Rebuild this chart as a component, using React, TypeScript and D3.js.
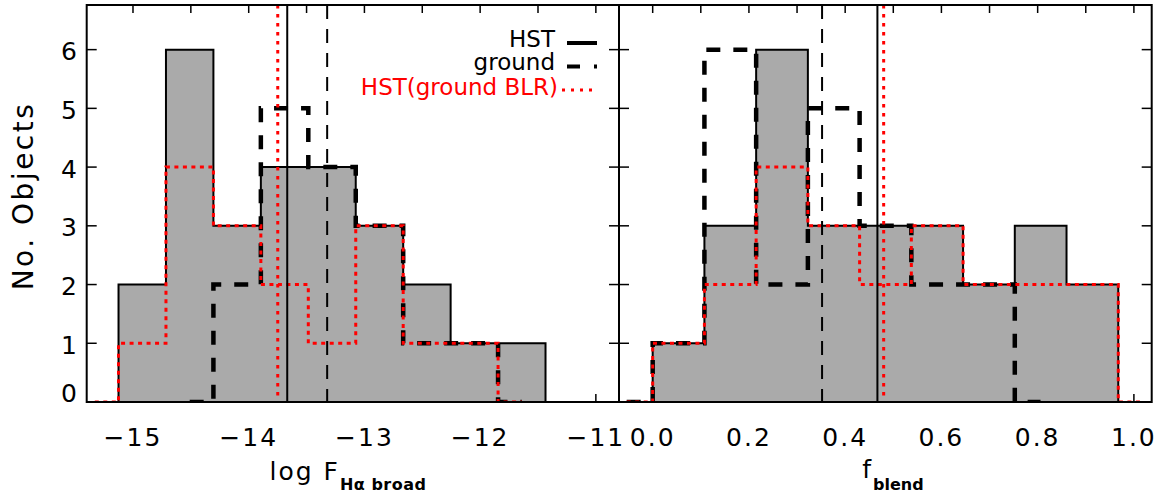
import React from 'react';
import * as d3 from 'd3';

// ---------- data ----------
const yTickValues = [0, 1, 2, 3, 4, 5, 6];

const fluxTickLabels = [-15, -14, -13, -12, -11];
const fluxMinorTicks = [-15, -14.5, -14, -13.5, -13, -12.5, -12, -11.5, -11];
const fluxBinCenters = [-15.33, -14.92, -14.51, -14.1, -13.69, -13.28, -12.87, -12.46, -12.05, -11.64, -11.23];
const fluxHST = [0, 2, 6, 3, 4, 4, 3, 2, 1, 1, 0];
const fluxGround = [null, null, 0, 2, 5, 4, 3, 1, 1, 0, null];
const fluxHSTGroundBLR = [0, 1, 4, 3, 2, 1, 3, 1, 1, 0, null];
const fluxMedianHST = -13.667;
const fluxMedianGround = -13.322;
const fluxMedianBLR = -13.749;

const blendTickLabels = [0, 0.2, 0.4, 0.6, 0.8, 1.0];
const blendMinorTicks = [0, 0.1, 0.2, 0.3, 0.4, 0.5, 0.6, 0.7, 0.8, 0.9, 1.0];
const blendBinCenters = [-0.054, 0.054, 0.161, 0.269, 0.376, 0.484, 0.591, 0.699, 0.806, 0.914, 1.021];
const blendHST = [0, 1, 3, 6, 3, 3, 3, 2, 3, 2, 0];
const blendGround = [0, 1, 6, 2, 5, 3, 2, 2, 0, null, null];
const blendHSTGroundBLR = [0, 1, 2, 4, 3, 2, 3, 2, 2, 2, 0];
const blendMedianHST = 0.467;
const blendMedianGround = 0.352;
const blendMedianBLR = 0.48;

const legendLabels = ['HST', 'ground', 'HST(ground BLR)'];

// ---------- layout ----------
const W = 1158;
const H = 493;
const TOP = 5;
const BOTTOM = 402;
const FONT = '"DejaVu Sans", sans-serif';
const GRAY = '#aaaaaa';
const RED = '#ff0000';

const yScale = d3.scaleLinear().domain([0, 6.76]).range([BOTTOM, TOP]);

type PanelProps = {
  id: string;
  domain: [number, number];
  range: [number, number];
  minorTicks: number[];
  labelTicks: number[];
  fmt: (d: number) => string;
  centers: number[];
  hst: (number | null)[];
  ground: (number | null)[];
  blr: (number | null)[];
  medHST: number;
  medGround: number;
  medBLR: number;
  showYLabels: boolean;
};

function toPts(centers: number[], vals: (number | null)[]) {
  const pts: [number, number][] = [];
  centers.forEach((c, i) => {
    const v = vals[i];
    if (v !== null && v !== undefined) pts.push([c, v]);
  });
  return pts;
}

function Panel(p: PanelProps) {
  const x = d3.scaleLinear().domain(p.domain).range(p.range);
  const [x0, x1] = p.range;
  const line = d3
    .line<[number, number]>()
    .x((d) => x(d[0]))
    .y((d) => yScale(d[1]))
    .curve(d3.curveStep);
  const area = d3
    .area<[number, number]>()
    .x((d) => x(d[0]))
    .y0(yScale(0))
    .y1((d) => yScale(d[1]))
    .curve(d3.curveStep);
  const hstPts = toPts(p.centers, p.hst);
  const groundPts = toPts(p.centers, p.ground);
  const blrPts = toPts(p.centers, p.blr);
  const clipId = `clip-${p.id}`;
  return (
    <g>
      <defs>
        <clipPath id={clipId}>
          <rect x={x0} y={TOP} width={x1 - x0} height={BOTTOM - TOP} />
        </clipPath>
      </defs>
      {/* ticks */}
      {p.minorTicks.map((t) => (
        <g key={`xt${t}`}>
          <line x1={x(t)} x2={x(t)} y1={BOTTOM} y2={BOTTOM - 8} stroke="black" strokeWidth={1.5} />
          <line x1={x(t)} x2={x(t)} y1={TOP} y2={TOP + 8} stroke="black" strokeWidth={1.5} />
        </g>
      ))}
      {yTickValues.map((t) => (
        <g key={`yt${t}`}>
          <line x1={x0} x2={x0 + 10} y1={yScale(t)} y2={yScale(t)} stroke="black" strokeWidth={1.5} />
          <line x1={x1} x2={x1 - 10} y1={yScale(t)} y2={yScale(t)} stroke="black" strokeWidth={1.5} />
        </g>
      ))}
      <g clipPath={`url(#${clipId})`}>
        <path d={area(hstPts) || ''} fill={GRAY} stroke="none" />
        <path d={line(hstPts) || ''} fill="none" stroke="black" strokeWidth={2} />
        <path d={line(groundPts) || ''} fill="none" stroke="black" strokeWidth={4.5} strokeDasharray="14,13" />
        <path d={line(blrPts) || ''} fill="none" stroke={RED} strokeWidth={3} strokeDasharray="4,4.5" />
        <line x1={x(p.medHST)} x2={x(p.medHST)} y1={TOP} y2={BOTTOM} stroke="black" strokeWidth={2} />
        <line x1={x(p.medGround)} x2={x(p.medGround)} y1={TOP} y2={BOTTOM} stroke="black" strokeWidth={2} strokeDasharray="14,10" />
        <line x1={x(p.medBLR)} x2={x(p.medBLR)} y1={TOP} y2={BOTTOM} stroke={RED} strokeWidth={3} strokeDasharray="3.5,5.5" />
      </g>
      <rect x={x0} y={TOP} width={x1 - x0} height={BOTTOM - TOP} fill="none" stroke="black" strokeWidth={2} />
      {p.labelTicks.map((t) => (
        <text
          key={`xl${t}`}
          x={x(t)}
          y={445.5}
          textAnchor="middle"
          fontFamily={FONT}
          fontSize={25}
          letterSpacing={2}
          fill="black"
        >
          {p.fmt(t)}
        </text>
      ))}
      {p.showYLabels &&
        yTickValues.map((t) => (
          <text
            key={`yl${t}`}
            x={77}
            y={t === 0 ? 401.5 : yScale(t) + 10.5}
            textAnchor="end"
            fontFamily={FONT}
            fontSize={25}
            fill="black"
          >
            {t}
          </text>
        ))}
    </g>
  );
}

export default function App() {
  const left: [number, number] = [86.7, 619];
  const right: [number, number] = [619, 1151.7];
  return (
    <svg
      width={W}
      height={H}
      viewBox={`0 0 ${W} ${H}`}
      style={{ position: 'absolute', left: 0, top: 0, background: 'white' }}
    >
      <rect x={0} y={0} width={W} height={H} fill="white" />
      <Panel
        id="flux"
        domain={[-15.4, -10.8]}
        range={left}
        minorTicks={fluxMinorTicks}
        labelTicks={fluxTickLabels}
        fmt={(d) => (d < 0 ? '\u2212' : '') + Math.abs(d)}
        centers={fluxBinCenters}
        hst={fluxHST}
        ground={fluxGround}
        blr={fluxHSTGroundBLR}
        medHST={fluxMedianHST}
        medGround={fluxMedianGround}
        medBLR={fluxMedianBLR}
        showYLabels={true}
      />
      <Panel
        id="blend"
        domain={[-0.07, 1.037]}
        range={right}
        minorTicks={blendMinorTicks}
        labelTicks={blendTickLabels}
        fmt={(d) => d.toFixed(1)}
        centers={blendBinCenters}
        hst={blendHST}
        ground={blendGround}
        blr={blendHSTGroundBLR}
        medHST={blendMedianHST}
        medGround={blendMedianGround}
        medBLR={blendMedianBLR}
        showYLabels={false}
      />
      {/* y axis title */}
      <text
        transform="translate(33,196) rotate(-90)"
        textAnchor="middle"
        fontFamily={FONT}
        fontSize={28}
        letterSpacing={2.5}
        fill="black"
      >
        No. Objects
      </text>
      {/* x axis titles */}
      <text x={348} y={480} textAnchor="middle" fontFamily={FONT} fontSize={25} letterSpacing={2} fill="black">
        log F
        <tspan fontSize={16} fontWeight="bold" dy={10} letterSpacing={0.5}>
          {'H\u03b1 broad'}
        </tspan>
      </text>
      <text x={893} y={478} textAnchor="middle" fontFamily={FONT} fontSize={25} fill="black">
        f
        <tspan fontSize={16} fontWeight="bold" dy={12} dx={2}>
          blend
        </tspan>
      </text>
      {/* legend */}
      <g fontFamily={FONT} fontSize={23}>
        <text x={555} y={46.5} textAnchor="end" fill="black">
          {legendLabels[0]}
        </text>
        <line x1={567} x2={597} y1={43} y2={43} stroke="black" strokeWidth={4} />
        <text x={555} y={70} textAnchor="end" fill="black">
          {legendLabels[1]}
        </text>
        <line x1={567} x2={597} y1={66.5} y2={66.5} stroke="black" strokeWidth={4} strokeDasharray="13,14,3,20" />
        <text x={558} y={94.5} textAnchor="end" fill={RED}>
          {legendLabels[2]}
        </text>
        <line x1={562} x2={597} y1={90} y2={90} stroke={RED} strokeWidth={3} strokeDasharray="3,6" />
      </g>
    </svg>
  );
}
